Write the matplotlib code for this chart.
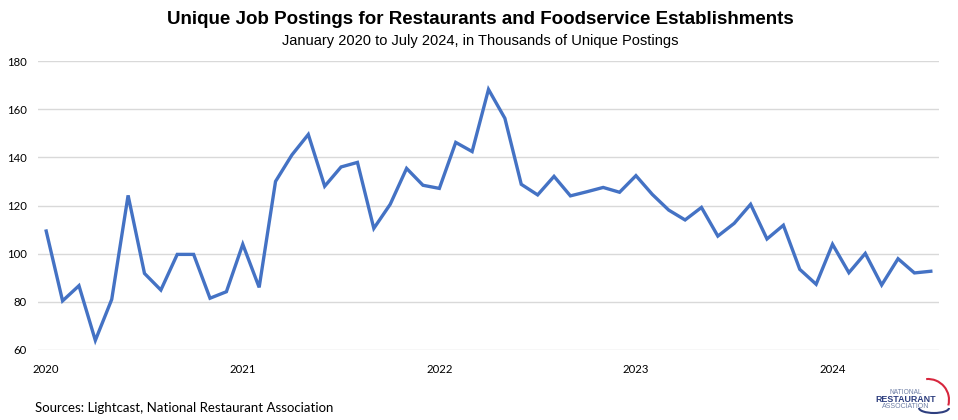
import matplotlib.pyplot as plt
import matplotlib.font_manager as fm
from matplotlib.patches import Arc
import numpy as np

# unique postings, thousands, Jan 2020 .. Jul 2024
postings = [
    109.4, 80.4, 86.7, 64.0, 81.0, 124.2, 91.8, 84.9, 99.7, 99.7, 81.5, 84.2,
    103.9, 86.0, 130.0, 141.0, 149.5, 128.0, 136.0, 137.9, 110.5, 120.5, 135.4, 128.4,
    127.1, 146.2, 142.4, 168.2, 156.2, 128.8, 124.4, 132.1, 124.0, 125.7, 127.5, 125.5,
    132.4, 124.6, 118.1, 114.0, 119.2, 107.3, 112.6, 120.5, 106.1, 111.8, 93.5, 87.3,
    103.9, 92.1, 100.1, 87.0, 97.9, 92.0, 92.7,
]
year_labels = ["2020", "2021", "2022", "2023", "2024"]
y_ticks = [60, 80, 100, 120, 140, 160, 180]

names = {f.name for f in fm.fontManager.ttflist}
title_font = "Liberation Sans Narrow" if "Liberation Sans Narrow" in names else "Liberation Sans"
body_font = "Lato"

months = np.arange(len(postings))

fig = plt.figure(figsize=(9.58, 4.2), dpi=100)
ax = fig.add_axes([38/958, 70/420, 901/958, 289/420])

ax.plot(months, postings, color="#4472C4", linewidth=2.4, solid_joinstyle="miter")

ax.set_xlim(-0.5, len(postings) - 0.5)
ax.set_ylim(60, 180)
ax.set_yticks(y_ticks)
ax.set_xticks(np.arange(len(year_labels)) * 12)
ax.set_xticklabels(year_labels)
ax.grid(axis="y", color="#D9D9D9", linewidth=1)
ax.set_axisbelow(True)
for s in ax.spines.values():
    s.set_visible(False)
ax.tick_params(length=0, labelsize=8.2, labelcolor="#000000")
ax.tick_params(axis="y", pad=8)
ax.tick_params(axis="x", pad=10)
for lab in ax.get_xticklabels() + ax.get_yticklabels():
    lab.set_fontfamily(body_font)

fig.text(480/958, 1 - 20/420, "Unique Job Postings for Restaurants and Foodservice Establishments",
         ha="center", va="center", fontsize=13.5, fontweight="bold", family=title_font)
fig.text(480/958, 1 - 41/420, "January 2020 to July 2024, in Thousands of Unique Postings",
         ha="center", va="center", fontsize=10.5, family=title_font)
fig.text(35/958, 1 - 408/420, "Sources: Lightcast, National Restaurant Association",
         ha="left", va="center", fontsize=9.5, family=body_font)

# logo
fig.text(906/958, 1 - 392/420, "NATIONAL", ha="center", va="center", fontsize=4.8,
         color="#6E7FA6", family="Liberation Sans")
fig.text(906/958, 1 - 399.5/420, "RESTAURANT", ha="center", va="center", fontsize=6.4,
         fontweight="bold", color="#2E3F7F", family="Liberation Sans")
fig.text(906/958, 1 - 407/420, "ASSOCIATION", ha="center", va="center", fontsize=5,
         color="#6E7FA6", family="Liberation Sans")
logo = fig.add_axes([870/958, 4/420, 90/958, 40/420])
logo.set_xlim(0, 90)
logo.set_ylim(0, 40)
logo.axis("off")
logo.add_patch(Arc((58, 16), 42, 42, theta1=-15, theta2=95, color="#D7263D", linewidth=1.5))
logo.add_patch(Arc((64, 8), 30, 10, theta1=180, theta2=360, color="#2E3F7F", linewidth=1.5))

fig.savefig("out.png", dpi=100)
